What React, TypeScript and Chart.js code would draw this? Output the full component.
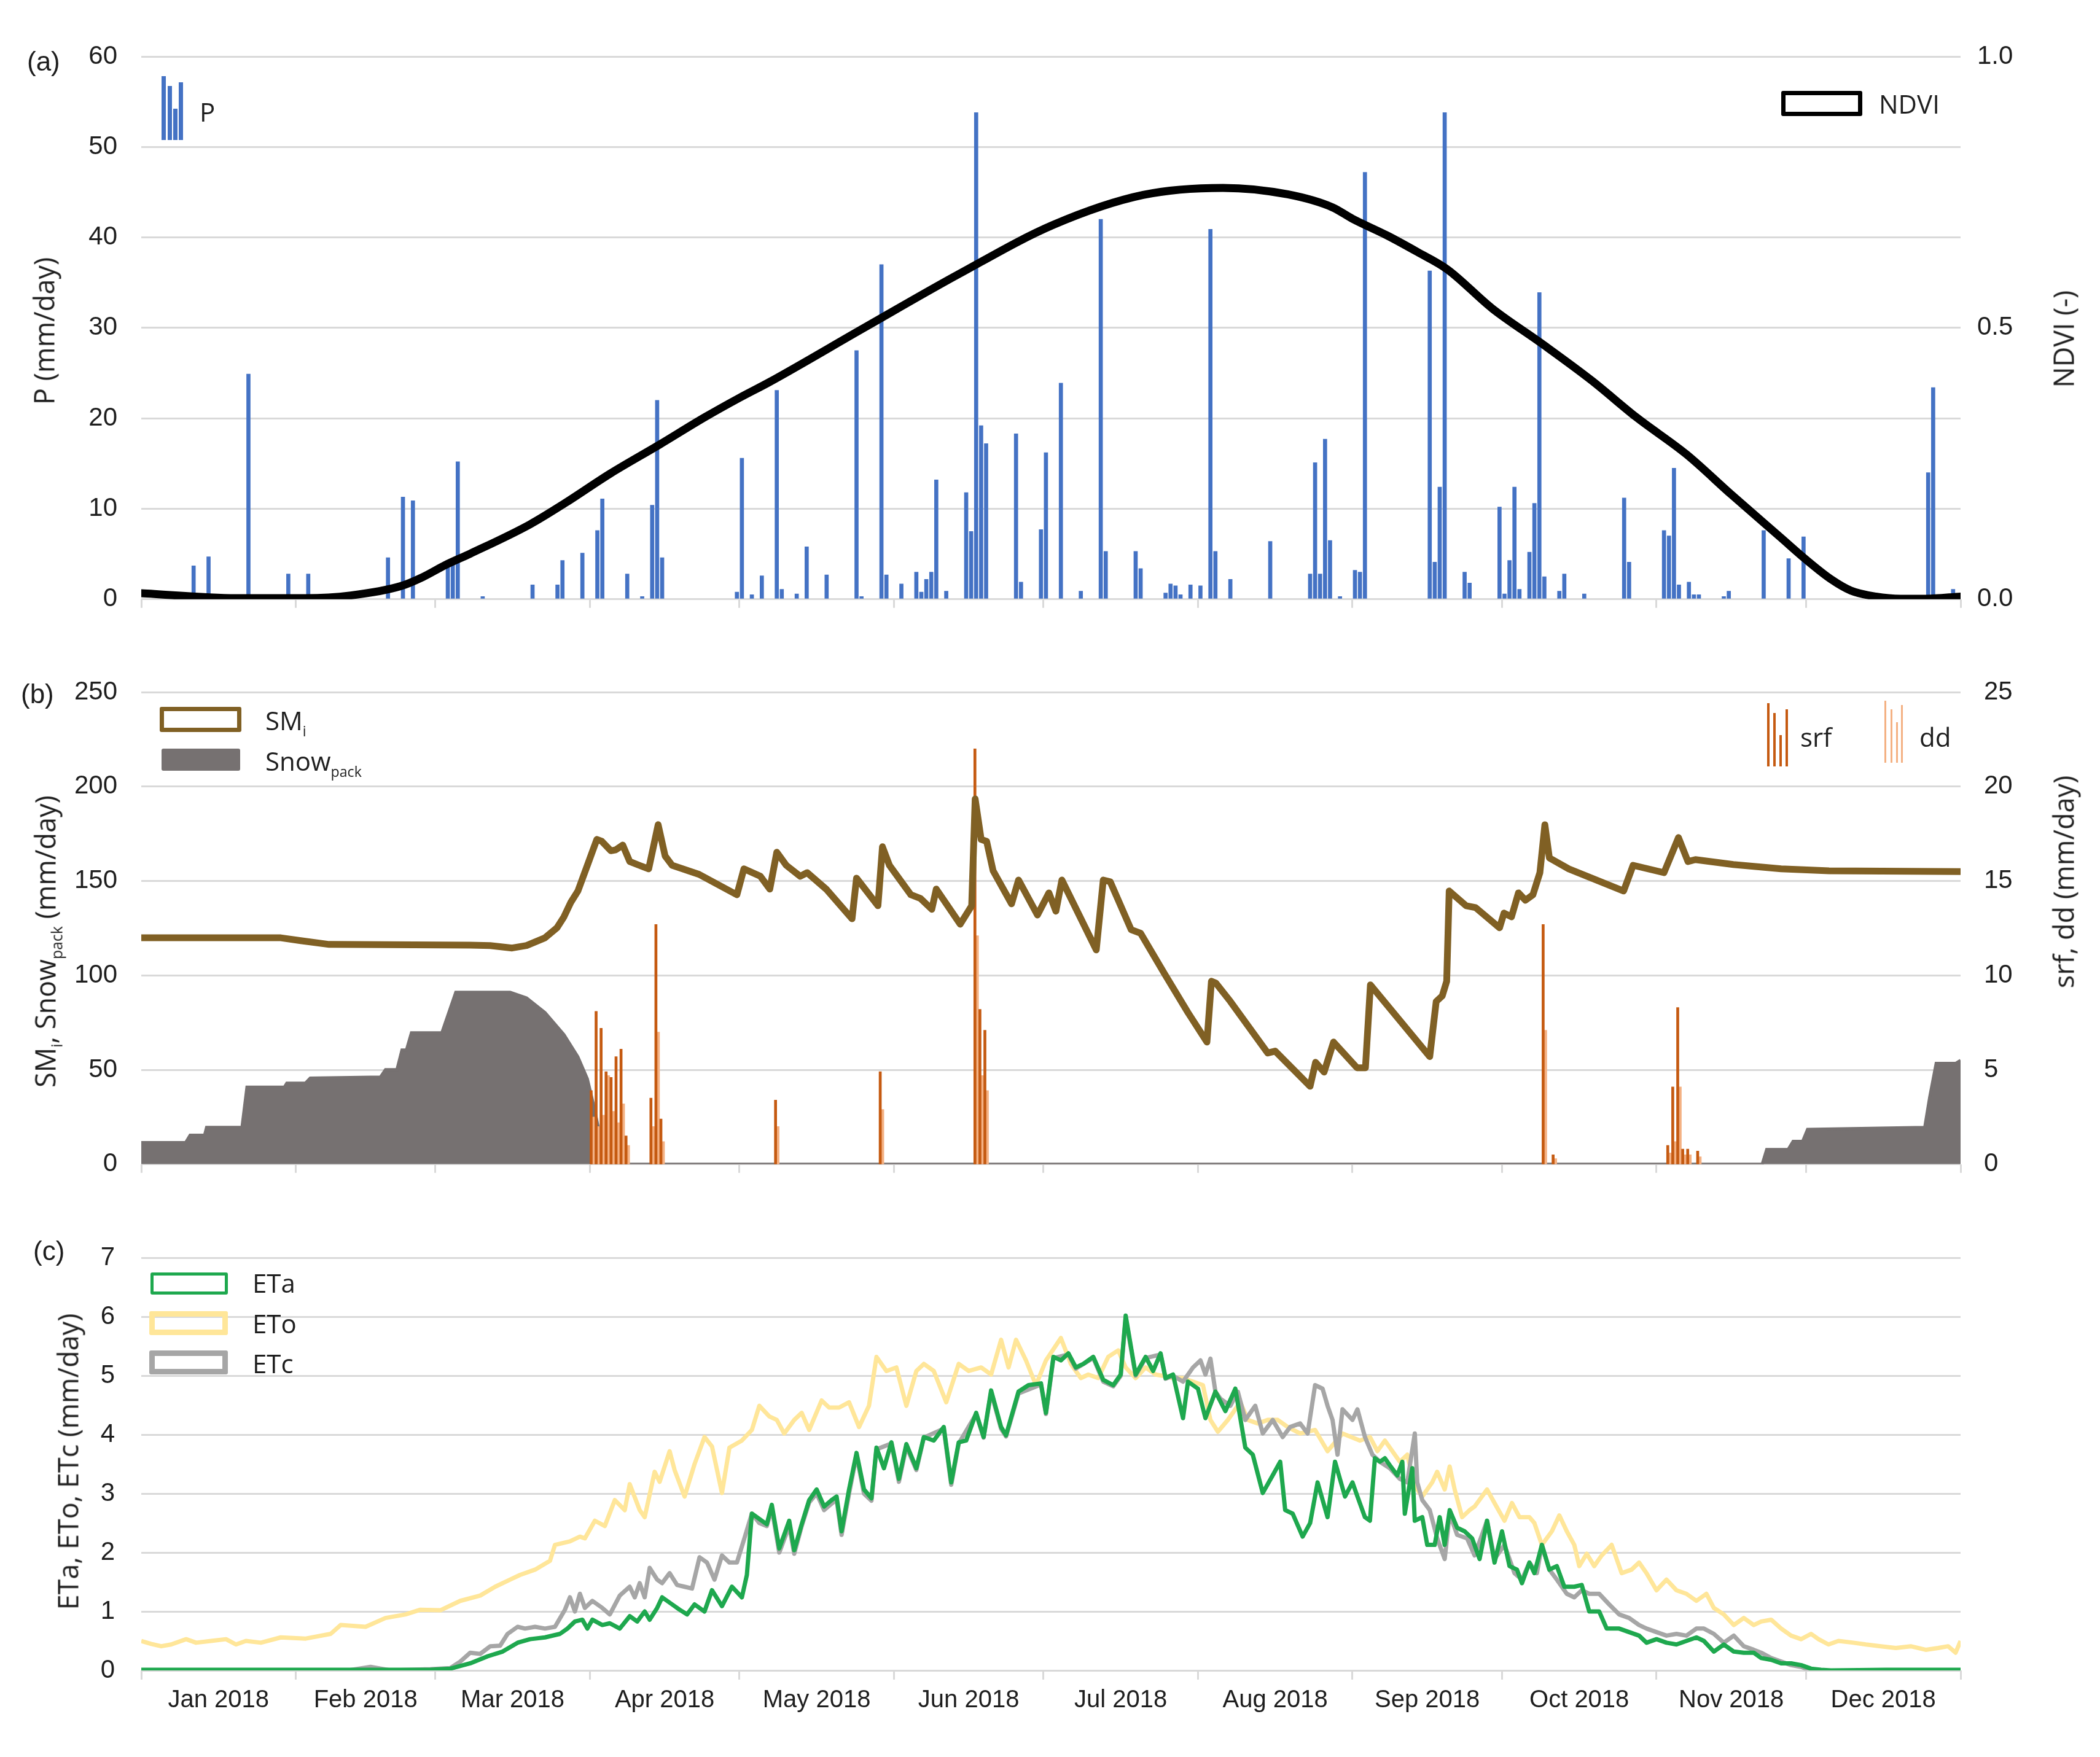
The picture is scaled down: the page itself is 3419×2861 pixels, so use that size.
import React, { useEffect, useRef } from 'react';
import { Chart, registerables } from 'chart.js';

Chart.register(...registerables);

// ---------------- DATA ----------------
const monthStarts = [0, 31, 59, 90, 120, 151, 181, 212, 243, 273, 304, 334, 365];
const monthLabels = ['Jan 2018', 'Feb 2018', 'Mar 2018', 'Apr 2018', 'May 2018', 'Jun 2018', 'Jul 2018', 'Aug 2018', 'Sep 2018', 'Oct 2018', 'Nov 2018', 'Dec 2018'];

const pTicks = [0, 10, 20, 30, 40, 50, 60];
const ndviTicks = [0, 0.5, 1.0];
const smTicks = [0, 50, 100, 150, 200, 250];
const srfTicks = [0, 5, 10, 15, 20, 25];
const etTicks = [0, 1, 2, 3, 4, 5, 6, 7];

// Precipitation P (mm/day): [day of year, value]
const pPoints: [number, number][] = [
  [11, 3.7], [14, 4.7], [22, 24.9], [30, 2.8], [34, 2.8], [50, 4.6], [53, 11.3], [55, 10.9], [62, 4.3], [63, 4.5], [64, 15.2],
  [69, 0.3], [79, 1.6], [84, 1.6], [85, 4.3], [89, 5.1], [92, 7.6], [93, 11.1], [98, 2.8], [101, 0.3], [103, 10.4], [104, 22.0],
  [105, 4.6], [120, 0.8], [121, 15.6], [123, 0.5], [125, 2.6], [128, 23.1], [129, 1.1], [132, 0.6], [134, 5.8], [138, 2.7],
  [144, 27.5], [145, 0.3], [149, 37.0], [150, 2.7], [153, 1.7], [156, 3.0], [157, 0.8], [158, 2.2], [159, 3.0], [160, 13.2],
  [162, 0.9], [166, 11.8], [167, 7.5], [168, 53.8], [169, 19.2], [170, 17.2], [176, 18.3], [177, 1.9], [181, 7.7], [182, 16.2],
  [185, 23.9], [189, 0.9], [193, 42.0], [194, 5.3], [200, 5.3], [201, 3.4], [206, 0.7], [207, 1.7], [208, 1.5], [209, 0.5],
  [211, 1.6], [213, 1.5], [215, 40.9], [216, 5.3], [219, 2.2], [227, 6.4], [235, 2.8], [236, 15.1], [237, 2.8], [238, 17.7],
  [239, 6.5], [241, 0.3], [244, 3.2], [245, 3.0], [246, 47.2], [259, 36.3], [260, 4.1], [261, 12.4], [262, 53.8], [266, 3.0],
  [267, 1.8], [273, 10.2], [274, 0.6], [275, 4.3], [276, 12.4], [277, 1.1], [279, 5.2], [280, 10.6], [281, 33.9], [282, 2.5],
  [285, 0.9], [286, 2.8], [290, 0.6], [298, 11.2], [299, 4.1], [306, 7.6], [307, 7.0], [308, 14.5], [309, 1.6], [311, 1.9],
  [312, 0.5], [313, 0.5], [318, 0.3], [319, 0.9], [326, 7.6], [331, 4.5], [334, 6.9], [359, 14.0], [360, 23.4], [364, 1.1],
];

// NDVI (-): [day, value]
const ndviPoints: [number, number][] = [
  [0, 0.011], [19, 0.002], [33, 0.002], [42, 0.007], [52, 0.024], [56.5, 0.041], [61, 0.063], [66, 0.084], [78, 0.138],
  [85, 0.177], [94, 0.231], [104, 0.285], [113, 0.335], [120, 0.371], [126, 0.40], [145, 0.50], [164, 0.599], [183, 0.690],
  [201, 0.745], [217, 0.758], [230, 0.746], [239, 0.722], [243, 0.701], [250, 0.67], [256, 0.64], [262, 0.608], [271, 0.536],
  [281, 0.471], [291, 0.403], [300, 0.335], [310, 0.267], [319, 0.193], [329, 0.113], [334, 0.073], [339, 0.037], [343, 0.016],
  [348, 0.005], [353, 0.001], [358, 0.001], [365, 0.005],
];

// Soil moisture SMi (mm): [day, value]
const smPoints: [number, number][] = [
  [0, 119.9], [28, 119.9], [32, 118.4], [37.7, 116.4], [66, 116.0], [70, 115.8], [74.4, 114.5], [77.3, 115.8], [81, 119.9],
  [83.4, 125.2], [84.8, 131], [86.2, 138.8], [87.6, 144.7], [89.5, 158.3], [91.4, 172], [92.4, 171], [94.2, 166], [95.2, 166.5],
  [96.6, 169], [98, 160.3], [99.9, 158.3], [101.8, 156.4], [103.7, 179.8], [105.1, 163.2], [106.5, 158.3], [111.9, 153.5],
  [119.5, 142.7], [120.9, 156.4], [124.2, 152.5], [126.1, 145.7], [127.5, 165.2], [129.4, 158.3], [132.2, 152.5], [133.6, 154.4],
  [137.4, 145.7], [142.6, 130], [143.5, 151.5], [147.8, 136.9], [148.7, 168.1], [150.1, 158.3], [154.4, 142.7], [156.3, 140.8],
  [158.6, 135], [159.5, 145.7], [164.3, 127.1], [166.6, 136.9], [167.3, 193.4], [168.5, 172], [169.6, 171], [170.9, 155.4],
  [174.6, 137.9], [176, 150.5], [179.8, 132], [182.1, 143.7], [183.5, 134], [184.7, 150.5], [191.6, 113.5], [193, 150.5],
  [194.4, 149.6], [198.6, 124.2], [200.5, 122.3], [205.3, 100.8], [210, 80.3], [213.8, 64.7], [214.7, 96.9], [215.6, 95.9],
  [218.5, 86.2], [226, 58.9], [227.5, 59.9], [234.5, 41.3], [235.6, 54], [237.3, 48.8], [239.2, 64.7], [243.9, 51.1],
  [245.6, 51.1], [246.6, 95], [258.5, 57], [259.8, 86.2], [261, 89.1], [261.9, 96.9], [262.4, 144.7], [265.8, 136.9],
  [267.7, 135.9], [272.5, 125.2], [273.4, 133], [274.9, 131], [276.3, 143.7], [277.7, 139.8], [279.2, 142.7], [280.6, 154.4],
  [281.6, 179.8], [282.5, 162.2], [286.4, 156.4], [297.4, 144.7], [299.3, 158.3], [305.5, 154.4], [308.4, 173], [310.3, 160.3],
  [311.8, 161.3], [319.4, 158.7], [329, 156.4], [338.6, 155.4], [365, 155],
];

// Snow pack (mm): [day, value]
const snowPoints: [number, number][] = [
  [0, 11.5], [8.9, 11.5], [9.8, 15.4], [12.7, 15.4], [13.1, 19.5], [20.2, 19.5], [21.2, 40.8], [28.7, 40.8], [29.2, 42.9],
  [32.9, 42.9], [33.9, 45.6], [48, 46.2], [49, 50.1], [51.3, 50.1], [52.3, 60.5], [53.2, 60.5], [54.2, 69.6], [60.3, 69.6],
  [63.1, 91.1], [74, 91.1], [77.3, 88.1], [81, 80.3], [84.8, 68.6], [87.6, 56.9], [89.5, 45.2], [90.9, 29.6], [92.1, 14],
  [93, 4.3], [96.1, 0], [325.2, 0], [326.1, 7.8], [330.4, 7.8], [331.4, 12.1], [333.3, 12.1], [334.3, 18.5], [357.8, 19.5],
  [358.8, 35.5], [360.1, 53.4], [364, 53.4], [365, 55],
];

// Surface runoff srf and deep drainage dd (mm/day), by day of year
const srfDays = [91, 92, 93, 94, 95, 96, 97, 98, 103, 104, 105, 128, 149, 168, 169, 170, 282, 284, 307, 308, 309, 310, 311, 313];
const srfVals = [3.9, 8.1, 7.2, 4.9, 4.6, 5.7, 6.1, 1.5, 3.5, 12.7, 2.4, 3.4, 4.9, 22.0, 8.2, 7.1, 12.7, 0.5, 1.0, 4.1, 8.3, 0.8, 0.8, 0.7];
const ddDays = [91, 92, 93, 94, 95, 96, 97, 98, 103, 104, 105, 128, 149, 168, 169, 170, 282, 284, 307, 308, 309, 310, 311, 313];
const ddVals = [2.5, 2.0, 2.6, 4.7, 2.8, 2.2, 3.2, 1.0, 2.0, 7.0, 1.2, 2.0, 2.9, 12.1, 4.7, 3.9, 7.1, 0.3, 0.6, 1.2, 4.1, 0.5, 0.5, 0.4];

// Evapotranspiration (mm/day): [day, value]
const etoPoints: [number, number][] = [
  [0, 0.50], [2, 0.45], [4, 0.41], [6, 0.44], [9, 0.53], [11, 0.47], [14, 0.50], [17, 0.53], [19, 0.44], [21, 0.50], [24, 0.47],
  [28, 0.56], [33, 0.54], [38, 0.62], [40, 0.77], [45, 0.74], [49, 0.89], [53, 0.95], [56, 1.03], [60, 1.02], [64, 1.18],
  [68, 1.27], [71, 1.42], [74, 1.54], [76, 1.62], [79, 1.71], [82, 1.86], [83, 2.13], [86, 2.19], [88, 2.27], [89, 2.24],
  [91, 2.54], [93, 2.45], [95, 2.89], [97, 2.72], [98, 3.16], [100, 2.72], [101, 2.60], [103, 3.37], [104, 3.20], [106, 3.72],
  [107, 3.40], [109, 2.95], [111, 3.50], [113, 3.96], [114.5, 3.80], [116.5, 3.01], [118, 3.78], [120.5, 3.90], [122.5, 4.08],
  [124, 4.49], [126, 4.31], [127.5, 4.25], [129, 4.02], [131, 4.25], [132.5, 4.37], [134, 4.08], [136.5, 4.58], [138, 4.46],
  [140, 4.46], [142, 4.55], [144, 4.13], [146, 4.49], [147.5, 5.32], [149.5, 5.08], [151.5, 5.14], [153.5, 4.49], [155.5, 5.08],
  [157, 5.20], [159, 5.08], [161.5, 4.55], [164, 5.20], [166, 5.08], [168.5, 5.14], [170.5, 5.02], [172.5, 5.61], [174, 5.14],
  [175.5, 5.61], [177.5, 5.26], [179.5, 4.84], [181.5, 5.26], [184.5, 5.64], [186.5, 5.20], [188.5, 4.96], [190, 5.02],
  [192, 4.96], [194, 5.32], [196, 5.43], [197.5, 5.14], [199.5, 4.96], [201.5, 5.14], [203.5, 5.02], [205.5, 4.99], [207, 4.96],
  [209, 4.96], [211, 4.90], [213, 4.84], [214.5, 4.25], [216, 4.05], [218, 4.25], [220.5, 4.55], [222, 4.25], [224, 4.19],
  [226, 4.25], [228, 4.25], [230, 4.13], [232.5, 4.02], [235.5, 4.08], [238, 3.72], [241, 4.02], [244.5, 3.90], [246.5, 3.96],
  [248, 3.72], [249.5, 3.90], [251, 3.72], [252.5, 3.54], [254, 3.66], [255.5, 3.13], [257, 2.95], [259, 3.19], [260, 3.37],
  [261.5, 3.07], [262.5, 3.46], [263.5, 3.07], [265, 2.60], [266.5, 2.72], [267.5, 2.78], [270, 3.07], [271.5, 2.84],
  [273.5, 2.54], [275, 2.84], [276.5, 2.60], [278.5, 2.60], [279.5, 2.50], [281, 2.13], [283, 2.36], [284.5, 2.63], [286, 2.36],
  [287.5, 2.13], [288.5, 1.77], [290, 1.98], [291.5, 1.77], [293, 1.95], [295, 2.13], [297, 1.65], [299, 1.71], [300.5, 1.83],
  [302, 1.65], [304, 1.36], [306, 1.54], [308, 1.36], [310, 1.30], [312, 1.18], [314, 1.30], [315.5, 1.06], [317.5, 0.95],
  [319.5, 0.77], [321.5, 0.89], [323.5, 0.77], [325, 0.83], [327, 0.86], [329, 0.71], [331, 0.59], [333, 0.53], [335, 0.62],
  [336.5, 0.53], [338.5, 0.44], [340.5, 0.50], [343.5, 0.47], [346, 0.44], [349, 0.41], [352, 0.38], [355, 0.41], [358, 0.35],
  [360.5, 0.38], [362.5, 0.41], [364, 0.30], [365, 0.50],
];

const etaPoints: [number, number][] = [
  [0, 0.01], [20, 0.01], [40, 0.01], [58, 0.01], [62, 0.03], [66, 0.12], [69.5, 0.24], [72.5, 0.32], [75.5, 0.47], [78, 0.53],
  [81, 0.56], [84, 0.62], [85.5, 0.71], [87, 0.83], [88.5, 0.86], [89.5, 0.71], [90.5, 0.86], [92.5, 0.77], [94, 0.80], [96, 0.71],
  [98, 0.92], [99.5, 0.83], [101, 1.0], [102, 0.86], [103.5, 1.06], [104.5, 1.24], [106.5, 1.12], [108, 1.03], [109.5, 0.95],
  [111, 1.12], [113, 1.0], [114.5, 1.36], [116.5, 1.09], [118.5, 1.42], [120.5, 1.24], [121.5, 1.62], [122.5, 2.66], [124, 2.57],
  [125.5, 2.48], [126.5, 2.81], [128, 2.07], [130, 2.54], [131, 2.04], [132.5, 2.48], [134, 2.89], [135.5, 3.07], [137, 2.78],
  [138.5, 2.89], [139.5, 2.95], [140.5, 2.36], [142, 3.07], [143.5, 3.69], [145, 3.07], [146.5, 2.92], [147.5, 3.78], [149, 3.43],
  [150.5, 3.87], [152, 3.25], [153.5, 3.84], [155.5, 3.43], [157, 3.96], [159, 3.9], [161, 4.13], [162.5, 3.19], [164, 3.87],
  [165.5, 3.9], [167.5, 4.37], [169, 3.96], [170.5, 4.75], [172.5, 4.13], [173.5, 3.99], [176, 4.73], [178, 4.84], [180.5, 4.87],
  [181.5, 4.37], [183, 5.32], [184.5, 5.26], [186, 5.38], [187.5, 5.14], [189, 5.2], [191, 5.32], [193, 4.93], [195, 4.84],
  [196.5, 5.02], [197.5, 6.02], [199.5, 5.02], [201.5, 5.32], [203, 5.08], [204.5, 5.38], [205.5, 4.96], [207, 5.02], [209, 4.28],
  [210, 4.9], [212, 4.78], [213.5, 4.28], [215.5, 4.73], [217.5, 4.4], [219.5, 4.78], [221.5, 3.78], [223, 3.66], [225, 3.01],
  [227, 3.31], [228.5, 3.54], [229.5, 2.72], [231, 2.66], [233, 2.27], [234.5, 2.5], [236, 3.19], [238, 2.6], [239.5, 3.54],
  [241.5, 2.95], [243, 3.19], [244, 2.95], [245.5, 2.6], [246.5, 2.54], [247.5, 3.6], [248.5, 3.54], [249.5, 3.6], [250.5, 3.48],
  [252, 3.31], [253, 3.54], [253.5, 2.66], [255, 3.43], [255.5, 2.54], [257, 2.6], [258, 2.13], [259.5, 2.13], [260.5, 2.6],
  [261.5, 2.13], [262.5, 2.72], [264, 2.42], [265.5, 2.36], [267, 2.24], [268.5, 1.89], [270, 2.54], [271.5, 1.83], [273, 2.36],
  [274.5, 1.77], [276, 1.71], [277, 1.48], [278.5, 1.83], [279.5, 1.65], [281, 2.13], [282.5, 1.71], [284, 1.77], [285.5, 1.42],
  [287.5, 1.42], [289, 1.45], [290.5, 1.0], [292.5, 1.0], [294, 0.71], [296.5, 0.71], [298.5, 0.65], [300.5, 0.59], [302, 0.47],
  [304, 0.53], [306, 0.47], [308, 0.44], [310, 0.5], [312, 0.56], [313.5, 0.5], [315.5, 0.32], [317.5, 0.44], [319.5, 0.32],
  [321.5, 0.3], [323.5, 0.3], [325, 0.21], [327, 0.18], [329, 0.12], [331, 0.12], [333, 0.09], [335, 0.03], [337, 0.01],
  [339, 0.0], [350, 0.01], [365, 0.01],
];

const etcPoints: [number, number][] = [
  [0, -0.02], [10, 0.0], [20, -0.02], [30, 0.0], [40, -0.02], [46, 0.06], [50, 0.0], [58, 0.02], [62, 0.04], [64, 0.15], [66, 0.30],
  [68, 0.28], [70, 0.41], [72, 0.42], [73.5, 0.62], [75.5, 0.74], [77, 0.71], [79, 0.74], [81, 0.71], [83, 0.74], [85, 1.03],
  [86, 1.24], [87, 1.0], [88, 1.3], [89, 1.06], [90.5, 1.18], [92.5, 1.06], [94, 0.95], [96, 1.27], [98, 1.42], [99, 1.24],
  [100, 1.48], [101, 1.24], [102, 1.74], [103.5, 1.54], [104.5, 1.48], [106, 1.65], [107.5, 1.45], [109, 1.42], [110.5, 1.39],
  [112, 1.92], [113.5, 1.83], [115, 1.54], [116.5, 1.95], [118, 1.83], [119.5, 1.83], [121, 2.24], [122.5, 2.66], [124, 2.5],
  [125.5, 2.45], [126.5, 2.75], [128, 2.0], [130, 2.45], [131, 1.98], [132.5, 2.45], [134, 2.85], [135.5, 3.0], [137, 2.72],
  [139.5, 2.9], [140.5, 2.3], [142, 3.0], [143.5, 3.65], [145, 3.0], [146.5, 2.88], [147.5, 3.75], [150.5, 3.85], [152, 3.2],
  [153.5, 3.8], [155.5, 3.4], [157, 3.95], [161, 4.1], [162.5, 3.15], [164, 3.85], [167.5, 4.35], [169, 3.95], [170.5, 4.72],
  [172.5, 4.1], [173.5, 3.97], [176, 4.7], [180.5, 4.85], [181.5, 4.35], [183, 5.3], [186, 5.36], [187.5, 5.12], [191, 5.3],
  [193, 4.9], [195, 4.82], [196.5, 5.0], [197.5, 5.98], [199.5, 5.0], [201.5, 5.3], [204.5, 5.36], [205.5, 4.95], [207, 5.0],
  [209, 4.9], [211, 5.14], [212.5, 5.26], [213.5, 5.02], [214.5, 5.29], [215.5, 4.73], [216.5, 4.61], [218.5, 4.49], [220, 4.73],
  [221.5, 4.25], [223.5, 4.49], [225, 4.02], [227, 4.25], [229, 3.96], [230.5, 4.13], [232.5, 4.19], [234, 4.02], [235.5, 4.84],
  [237, 4.78], [238, 4.49], [239, 4.25], [240, 3.66], [241, 4.43], [243, 4.25], [244, 4.43], [245.5, 3.96], [247, 3.66],
  [248.5, 3.54], [250.5, 3.43], [252.5, 3.25], [254, 3.19], [255.5, 4.02], [256, 3.19], [257, 2.89], [258.5, 2.72], [260, 2.24],
  [261.5, 1.89], [262.5, 2.66], [264, 2.3], [266, 2.24], [267.5, 1.95], [270, 2.54], [271.5, 1.89], [273.5, 2.13], [275.5, 1.65],
  [277, 1.54], [278.5, 1.83], [280, 1.65], [281, 2.13], [282.5, 1.71], [284, 1.54], [286, 1.3], [287.5, 1.24], [289, 1.36],
  [290.5, 1.3], [292.5, 1.3], [294.5, 1.12], [296.5, 0.95], [298.5, 0.89], [300.5, 0.77], [302, 0.71], [304, 0.65], [306, 0.59],
  [308, 0.62], [310, 0.59], [312, 0.71], [313.5, 0.71], [315.5, 0.62], [317.5, 0.47], [319.5, 0.59], [321.5, 0.41], [323.5, 0.35],
  [325, 0.30], [327, 0.21], [329, 0.15], [331, 0.09], [333, 0.06], [335, 0.0], [337, -0.03], [350, -0.03], [365, -0.03],
];

// ---------------- STYLE / HELPERS ----------------
const W = 3419;
const H = 2861;
const TICK_FAMILY = '"Liberation Sans", Arial, sans-serif';
const TEXT_FAMILY = '"Open Sans", "Noto Sans", sans-serif';
const GRID = '#D9D9D9';
const TXT = '#1e1e1e';

const toXY = (arr: [number, number][]) => arr.map(([x, y]) => ({ x, y }));
const toBars = (days: number[], vals: number[]) => days.map((d, i) => ({ x: d - 0.5, y: vals[i] }));
const pairBars = (arr: [number, number][]) => arr.map(([d, v]) => ({ x: d - 0.5, y: v }));

const monthMids = monthStarts.slice(0, 12).map((s, i) => (s + monthStarts[i + 1]) / 2);

function xAxis(showLabels: boolean, height: number, tickLen: number) {
  return {
    type: 'linear',
    min: 0,
    max: 365,
    offset: false,
    afterBuildTicks: (s: any) => {
      const vals = showLabels ? [...monthStarts, ...monthMids] : [...monthStarts];
      vals.sort((a, b) => a - b);
      s.ticks = vals.map((v) => ({ value: v }));
    },
    afterFit: (s: any) => {
      s.height = height;
    },
    grid: {
      offset: false,
      drawOnChartArea: false,
      drawTicks: true,
      tickLength: tickLen,
      tickWidth: 3,
      lineWidth: 3,
      tickColor: (ctx: any) =>
        ctx.tick && monthStarts.includes(ctx.tick.value) ? GRID : 'rgba(0,0,0,0)',
    },
    border: { display: false },
    ticks: {
      autoSkip: false,
      maxRotation: 0,
      minRotation: 0,
      padding: 10,
      color: TXT,
      font: { family: TICK_FAMILY, size: 40 },
      callback: (v: number) => {
        const i = monthMids.indexOf(v);
        return i >= 0 ? monthLabels[i] : '';
      },
    },
  };
}

function yAxis(position: string, ticks: number[], decimals: number, width: number, gridOn: boolean, padding: number) {
  return {
    type: 'linear',
    position,
    min: ticks[0],
    max: ticks[ticks.length - 1],
    afterBuildTicks: (s: any) => {
      s.ticks = ticks.map((v) => ({ value: v }));
    },
    afterFit: (s: any) => {
      s.width = width;
    },
    grid: { display: gridOn, color: GRID, lineWidth: 3, drawTicks: false },
    border: { display: false },
    ticks: {
      padding,
      color: TXT,
      font: { family: TICK_FAMILY, size: 42 },
      callback: (v: number) => v.toFixed(decimals),
    },
  };
}

const baseOptions = (padTop: number, padRight: number) => ({
  animation: false,
  responsive: false,
  devicePixelRatio: 1,
  events: [],
  layout: { padding: { top: padTop, left: 0, right: padRight, bottom: 0 } },
  plugins: { legend: { display: false }, tooltip: { enabled: false } },
});

// ---------------- COMPONENT ----------------
export default function App() {
  const refA = useRef<HTMLCanvasElement>(null);
  const refB = useRef<HTMLCanvasElement>(null);
  const refC = useRef<HTMLCanvasElement>(null);

  useEffect(() => {
    const charts: Chart[] = [];

    // Panel (a)
    charts.push(
      new Chart(refA.current as HTMLCanvasElement, {
        type: 'bar',
        data: {
          datasets: [
            {
              type: 'line',
              label: 'NDVI',
              data: toXY(ndviPoints),
              yAxisID: 'y1',
              borderColor: '#000000',
              borderWidth: 13,
              pointRadius: 0,
              cubicInterpolationMode: 'monotone',
              fill: false,
              borderCapStyle: 'round',
            } as any,
            {
              type: 'bar',
              label: 'P',
              data: pairBars(pPoints),
              yAxisID: 'y',
              backgroundColor: '#4472C4',
              barThickness: 6,
              borderWidth: 0,
            } as any,
          ],
        },
        options: {
          ...baseOptions(92, 0),
          scales: {
            x: xAxis(false, 59, 14),
            y: yAxis('left', pTicks, 0, 230, true, 39),
            y1: yAxis('right', ndviTicks, 1, 227, false, 27),
          },
        } as any,
      })
    );

    // Panel (b)
    charts.push(
      new Chart(refB.current as HTMLCanvasElement, {
        type: 'bar',
        data: {
          datasets: [
            {
              type: 'line',
              label: 'SMi',
              data: toXY(smPoints),
              yAxisID: 'y',
              borderColor: '#806024',
              borderWidth: 11,
              pointRadius: 0,
              tension: 0,
              fill: false,
              borderJoinStyle: 'round',
            } as any,
            {
              type: 'bar',
              label: 'srf',
              data: toBars(srfDays, srfVals),
              yAxisID: 'y1',
              backgroundColor: '#C55A11',
              barThickness: 4,
              borderWidth: 0,
            } as any,
            {
              type: 'bar',
              label: 'dd',
              data: toBars(ddDays, ddVals),
              yAxisID: 'y1',
              backgroundColor: '#F4B183',
              barThickness: 4,
              borderWidth: 0,
            } as any,
            {
              type: 'line',
              label: 'Snowpack',
              data: toXY(snowPoints),
              yAxisID: 'y',
              borderColor: '#767171',
              backgroundColor: '#767171',
              borderWidth: 5,
              pointRadius: 0,
              tension: 0,
              fill: 'origin',
            } as any,
          ],
        },
        options: {
          ...baseOptions(67, 0),
          scales: {
            x: xAxis(false, 56, 14),
            y: yAxis('left', smTicks, 0, 230, true, 39),
            y1: yAxis('right', srfTicks, 0, 227, false, 38),
          },
        } as any,
      })
    );

    // Panel (c)
    charts.push(
      new Chart(refC.current as HTMLCanvasElement, {
        type: 'line',
        data: {
          datasets: [
            { label: 'ETa', data: toXY(etaPoints), borderColor: '#1EA84E', borderWidth: 7, pointRadius: 0, tension: 0, borderJoinStyle: 'round' },
            { label: 'ETc', data: toXY(etcPoints), borderColor: '#A6A6A6', borderWidth: 7, pointRadius: 0, tension: 0, borderJoinStyle: 'round' },
            { label: 'ETo', data: toXY(etoPoints), borderColor: '#FFE699', borderWidth: 7, pointRadius: 0, tension: 0, borderJoinStyle: 'round' },
          ] as any,
        },
        options: {
          ...baseOptions(50, 227),
          scales: {
            x: xAxis(true, 141, 15),
            y: yAxis('left', etTicks, 0, 230, true, 43),
          },
        } as any,
      })
    );

    return () => charts.forEach((c) => c.destroy());
  }, []);

  const abs = (s: React.CSSProperties): React.CSSProperties => ({ position: 'absolute', ...s });
  const vTitle = (cx: number, cy: number, content: React.ReactNode) => (
    <div
      style={abs({
        left: cx,
        top: cy,
        transform: 'translate(-50%, -50%) rotate(-90deg)',
        whiteSpace: 'nowrap',
        fontFamily: TEXT_FAMILY,
        fontSize: 45,
        color: TXT,
        lineHeight: 1,
      })}
    >
      {content}
    </div>
  );
  const text = (x: number, cy: number, content: React.ReactNode, size = 42, family = TEXT_FAMILY) => (
    <div
      style={abs({
        left: x,
        top: cy,
        transform: 'translateY(-50%)',
        whiteSpace: 'nowrap',
        fontFamily: family,
        fontSize: size,
        color: TXT,
        lineHeight: 1,
      })}
    >
      {content}
    </div>
  );
  const box = (x: number, y: number, w: number, h: number, border: string, bw: number, fill = 'transparent') => (
    <div
      style={abs({
        left: x,
        top: y,
        width: w,
        height: h,
        boxSizing: 'border-box',
        border: bw > 0 ? `${bw}px solid ${border}` : 'none',
        background: fill,
        borderRadius: 3,
      })}
    />
  );
  const bar = (x: number, top: number, bottom: number, w: number, color: string) => (
    <div style={abs({ left: x, top, width: w, height: bottom - top, background: color })} />
  );
  const sub = (s: string) => (
    <span style={{ fontSize: '0.55em', position: 'relative', top: '0.45em' }}>{s}</span>
  );

  return (
    <div style={abs({ left: 0, top: 0, width: W, height: H, background: '#ffffff', overflow: 'hidden' })}>
      <canvas ref={refA} width={W} height={1040} style={abs({ left: 0, top: 0 })} />
      <canvas ref={refB} width={W} height={900} style={abs({ left: 0, top: 1060 })} />
      <canvas ref={refC} width={W} height={881} style={abs({ left: 0, top: 1980 })} />

      {/* panel labels */}
      {text(44, 100, '(a)', 44, TICK_FAMILY)}
      {text(34, 1130, '(b)', 44, TICK_FAMILY)}
      {text(54, 2037, '(c)', 44, TICK_FAMILY)}

      {/* axis titles */}
      {vTitle(71, 539, 'P (mm/day)')}
      {vTitle(3359, 552, 'NDVI (-)')}
      {vTitle(73, 1533, <span>SM{sub('i')}, Snow{sub('pack')} (mm/day)</span>)}
      {vTitle(3359, 1436, 'srf, dd (mm/day)')}
      {vTitle(110, 2380, 'ETa, ETo, ETc (mm/day)')}

      {/* legend (a) */}
      {bar(263, 124, 228, 7, '#4472C4')}
      {bar(273, 140, 228, 7, '#4472C4')}
      {bar(282, 177, 228, 7, '#4472C4')}
      {bar(291, 134, 228, 7, '#4472C4')}
      {text(325, 182, 'P', 42)}
      {box(2900, 148, 132, 41, '#000000', 7)}
      {text(3059, 169, 'NDVI', 42)}

      {/* legend (b) */}
      {box(260, 1151, 133, 41, '#806024', 7)}
      {text(432, 1173, <span>SM{sub('i')}</span>, 42)}
      {box(263, 1219, 128, 36, '#767171', 0, '#767171')}
      {text(432, 1239, <span>Snow{sub('pack')}</span>, 42)}
      {bar(2877, 1145, 1248, 4, '#C55A11')}
      {bar(2887, 1161, 1248, 4, '#C55A11')}
      {bar(2897, 1197, 1248, 4, '#C55A11')}
      {bar(2907, 1155, 1248, 4, '#C55A11')}
      {text(2931, 1200, 'srf', 42)}
      {bar(3068, 1141, 1242, 3, '#F4B183')}
      {bar(3078, 1155, 1242, 3, '#F4B183')}
      {bar(3087, 1176, 1242, 3, '#F4B183')}
      {bar(3095, 1148, 1242, 3, '#F4B183')}
      {text(3125, 1200, 'dd', 42)}

      {/* legend (c) */}
      {box(245, 2072, 126, 36, '#1EA84E', 5)}
      {text(411, 2089, 'ETa', 42)}
      {box(243, 2135, 128, 39, '#FFE699', 9)}
      {text(411, 2155, 'ETo', 42)}
      {box(243, 2199, 128, 39, '#A6A6A6', 9)}
      {text(411, 2220, 'ETc', 42)}
    </div>
  );
}
